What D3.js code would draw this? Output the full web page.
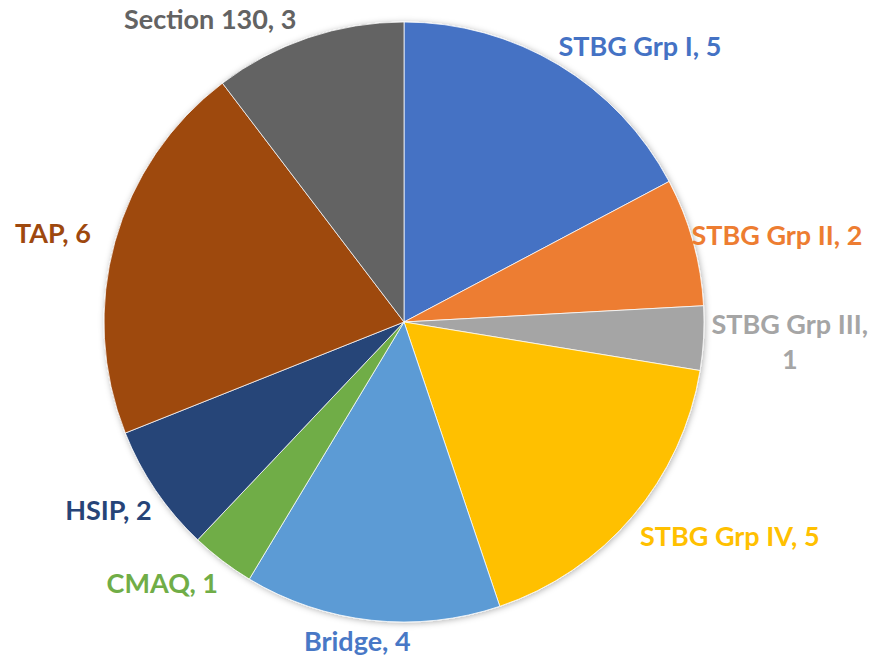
<!DOCTYPE html>
<html>
<head>
<meta charset="utf-8">
<script src="https://cdn.jsdelivr.net/npm/d3@7"></script>
<style>
  body { margin: 0; background: #fff; }
  text { font-family: Lato, "Open Sans", sans-serif; font-weight: bold; }
</style>
</head>
<body>
<div id="chart"></div>
<script>
// data
const categories = ["STBG Grp I", "STBG Grp II", "STBG Grp III", "STBG Grp IV", "Bridge", "CMAQ", "HSIP", "TAP", "Section 130"];
const counts = [5, 2, 1, 5, 4, 1, 2, 6, 3];
const colors = ["#4472C4", "#ED7D31", "#A5A5A5", "#FFC000", "#5B9BD5", "#70AD47", "#264478", "#9E480E", "#636363"];
const labelColors = ["#4472C4", "#ED7D31", "#A5A5A5", "#FFC000", "#4878C6", "#70AD47", "#264478", "#9E480E", "#636363"];

const width = 884, height = 658;
const cx = 404, cy = 322, radius = 300;
const fontSize = 27;

// small per-label tweaks so the labels sit where the original put them
const nudge = {
  "STBG Grp I": [32, 9],
  "STBG Grp II": [-12, 2],
  "STBG Grp III": [-6, 1],
  "STBG Grp IV": [18, 0],
  "Bridge": [-7, -10],
  "CMAQ": [-18, -2],
  "HSIP": [0, 2],
  "TAP": [-12, 0],
  "Section 130": [-66, 12]
};

let rows = categories.map((c, i) => ({name: c, value: counts[i], color: colors[i], labelColor: labelColors[i]}));

let svg = d3.select("#chart")
  .append("svg")
  .attr("width", width)
  .attr("height", height);

let defs = svg.append("defs");
defs.append("filter")
  .attr("id", "shadow")
  .attr("x", "-10%").attr("y", "-10%")
  .attr("width", "120%").attr("height", "120%")
  .append("feDropShadow")
    .attr("dx", 1).attr("dy", 1)
    .attr("stdDeviation", 3)
    .attr("flood-color", "#000")
    .attr("flood-opacity", 0.3);

let pie = d3.pie()
  .value(d => d.value)
  .sort(null);

let arc = d3.arc()
  .innerRadius(0)
  .outerRadius(radius);

let arcs = pie(rows);

let pieGroup = svg.append("g")
  .attr("transform", `translate(${cx},${cy})`);

pieGroup.append("g")
  .attr("filter", "url(#shadow)")
  .selectAll("path")
  .data(arcs)
  .enter()
    .append("path")
    .attr("d", arc)
    .attr("fill", d => d.data.color)
    .attr("stroke", "#fff")
    .attr("stroke-width", 0.75);

// labels, placed outside the pie, pushed away along the mid angle
let labelGroup = svg.append("g");
arcs.forEach(d => {
  let a = (d.startAngle + d.endAngle) / 2;
  let sx = Math.sin(a), sy = -Math.cos(a);
  let gap = 14;
  let ax = cx + (radius + gap) * sx;
  let ay = cy + (radius + gap) * sy;

  let text = labelGroup.append("text")
    .attr("fill", d.data.labelColor)
    .attr("font-size", fontSize)
    .attr("text-anchor", "middle");

  let full = `${d.data.name}, ${d.data.value}`;
  let t = text.append("tspan").text(full);
  let w = t.node().getComputedTextLength();
  let lines = [full];
  let boxW = w;
  if (ax + w + 4 > width) {
    // wrap like Excel does when there is no room
    t.remove();
    lines = [`${d.data.name},`, `${d.data.value}`];
    boxW = 0;
    lines.forEach(l => {
      let s = text.append("tspan").text(l);
      boxW = Math.max(boxW, s.node().getComputedTextLength());
    });
  }
  let lh = fontSize * 1.3;
  let boxH = lh * lines.length;
  let n = nudge[d.data.name] || [0, 0];
  let bx = ax + sx * boxW / 2 + n[0];
  let by = ay + sy * boxH / 2 + n[1];

  text.selectAll("tspan")
    .attr("x", bx)
    .attr("y", (l, i) => by - boxH / 2 + lh * i + lh / 2)
    .attr("dy", "0.35em");
});
</script>
</body>
</html>
